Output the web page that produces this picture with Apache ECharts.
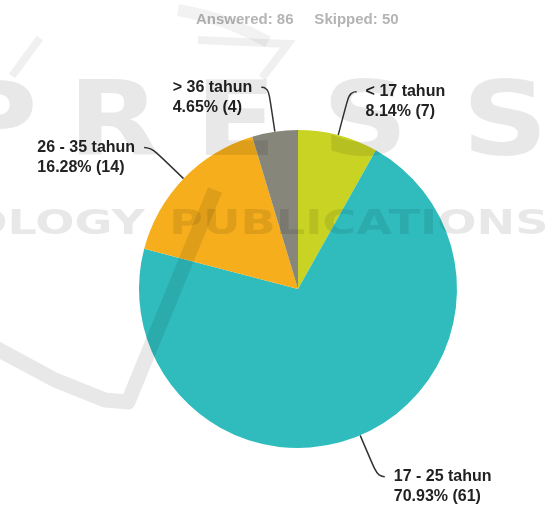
<!DOCTYPE html>
<html>
<head>
  <meta charset="utf-8">
  <title>Usia responden</title>
  <script src="https://cdn.jsdelivr.net/npm/echarts@6/dist/echarts.min.js"></script>
</head>
<style>
  html,
  body {
    height: 100%;
    margin: 0;
    padding: 0;
    background: #fff;
  }
</style>

<body>
  <div id="chart" style="width: 553px; height: 506px;"></div>

  <script>
    // data
    const categories = ['< 17 tahun', '17 - 25 tahun', '26 - 35 tahun', '> 36 tahun'];
    const counts = [7, 61, 14, 4];
    const answered = 86;
    const skipped = 50;

    const palette = ['#c9d324', '#30bcbd', '#f6ae1d', '#87867b'];
    const shade = 'rgba(0,0,0,0.09)';

    // faint publisher watermark on top of the chart
    const pressLetters = ['P', 'R', 'E', 'S', 'S'];
    const pressX = [-50, 68, 195, 322, 462];
    const watermark = pressLetters.map((ch, i) => ({
      type: 'text',
      x: pressX[i],
      y: 76,
      z: 100,
      scaleX: 1.15,
      silent: true,
      style: { text: ch, font: 'bold 104px "DejaVu Sans"', fill: shade, verticalAlign: 'top' }
    }));
    watermark.push(
      {
        type: 'text', x: 145, y: 208, z: 100, scaleX: 1.36, silent: true,
        style: { text: 'OLOGY', font: 'bold 34px "DejaVu Sans"', fill: shade, align: 'right', verticalAlign: 'top' }
      },
      {
        type: 'text', x: 169, y: 208, z: 100, scaleX: 1.36, silent: true,
        style: { text: 'PUBLICATIONS', font: 'bold 34px "DejaVu Sans"', fill: shade, verticalAlign: 'top' }
      },
      {
        type: 'polyline', z: 100, silent: true,
        shape: { points: [[-10, 345], [55, 380], [105, 400], [128, 402], [215, 190]] },
        style: { stroke: shade, lineWidth: 15, fill: null, lineJoin: 'round' }
      },
      {
        type: 'polyline', z: 100, silent: true,
        shape: { points: [[12, 76], [40, 38]] },
        style: { stroke: 'rgba(0,0,0,0.06)', lineWidth: 8, fill: null }
      },
      {
        type: 'polyline', z: 100, silent: true,
        shape: { points: [[198, 40], [288, 44], [262, 78]] },
        style: { stroke: 'rgba(0,0,0,0.06)', lineWidth: 8, fill: null }
      },
      {
        type: 'polyline', z: 100, silent: true,
        shape: { points: [[178, 10], [225, 22], [268, 42]], smooth: 0.4 },
        style: { stroke: 'rgba(0,0,0,0.05)', lineWidth: 12, fill: null }
      }
    );

    const chart = echarts.init(document.getElementById('chart'));
    const option = {
      animation: false,
      color: palette,
      title: {
        left: 196,
        top: 12,
        padding: 0,
        text: 'Answered: ' + answered + '     Skipped: ' + skipped,
        textStyle: {
          fontFamily: 'Liberation Sans',
          fontSize: 15,
          fontWeight: 'bold',
          color: '#b4b4b4'
        }
      },
      series: [{
        type: 'pie',
        center: [298, 289],
        radius: 159,
        startAngle: 90,
        clockwise: true,
        percentPrecision: 2,
        avoidLabelOverlap: false,
        data: categories.map((name, i) => ({ name: name, value: counts[i] })),
        label: {
          show: true,
          position: 'outside',
          distanceToLabelLine: 9,
          padding: [20, 0, 0, 0],
          formatter: '{a|{b}}\n{a|{d}% ({c})}',
          rich: {
            a: {
              align: 'left',
              fontFamily: 'Liberation Sans',
              fontSize: 16,
              fontWeight: 'bold',
              lineHeight: 20,
              color: '#222'
            }
          }
        },
        labelLine: {
          show: true,
          length: 45,
          length2: 7,
          smooth: 0.6,
          lineStyle: { color: '#333', width: 1.5 }
        },
        itemStyle: { borderWidth: 0 },
        emphasis: { disabled: true }
      }],
      graphic: watermark
    };
    chart.setOption(option);
  </script>
</body>
</html>
